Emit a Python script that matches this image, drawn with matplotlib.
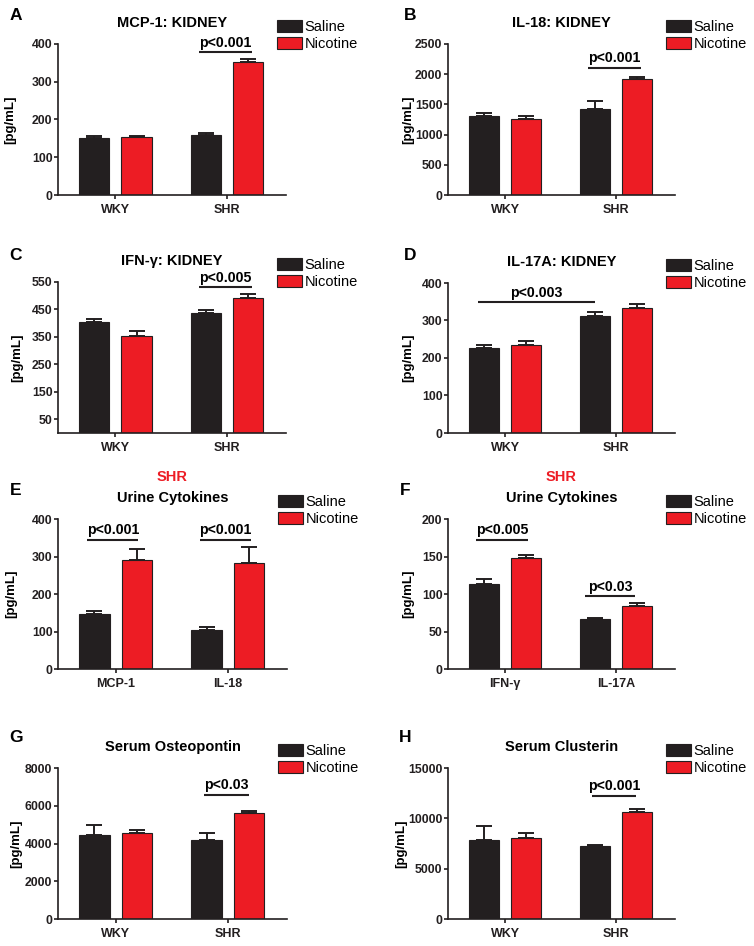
import numpy as np
import matplotlib.pyplot as plt
from matplotlib.patches import Patch

plt.rcParams['font.family'] = ['Liberation Sans', 'DejaVu Sans']

W, H = 754, 946
BLACK = '#231f20'
RED = '#ed1c24'

# --- data ---
strains = ['WKY', 'SHR']

mcp1_sal = [150, 159]
mcp1_sal_err = [5, 6.5]
mcp1_nic = [153, 352]
mcp1_nic_err = [4.5, 8]

il18_sal = [1316, 1427]
il18_sal_err = [39, 122]
il18_nic = [1255, 1919]
il18_nic_err = [45, 33]

ifng_sal = [403, 437]
ifng_sal_err = [13, 10]
ifng_nic = [355, 492]
ifng_nic_err = [18, 13]

il17a_sal = [227, 313]
il17a_sal_err = [7, 10]
il17a_nic = [234, 332]
il17a_nic_err = [10.5, 13]

urine1_cats = ['MCP-1', 'IL-18']
urine1_sal = [146, 105]
urine1_sal_err = [9, 7]
urine1_nic = [291, 284]
urine1_nic_err = [28, 42]

urine2_cats = ['IFN-γ', 'IL-17A']
urine2_sal = [114, 66.5]
urine2_sal_err = [6, 1]
urine2_nic = [148, 83.5]
urine2_nic_err = [4.5, 4.5]

opn_sal = [4430, 4200]
opn_sal_err = [530, 355]
opn_nic = [4575, 5600]
opn_nic_err = [125, 105]

clu_sal = [7815, 7285]
clu_sal_err = [1455, 100]
clu_nic = [8045, 10660]
clu_nic_err = [465, 300]

# p-value labels and the height of their bars (data units)
p_A = ['p<0.001']; h_A = [378]
p_B = ['p<0.001']; h_B = [2102]
p_C = ['p<0.005']; h_C = [530]
p_D = ['p<0.003']; h_D = [349]
p_E = ['p<0.001', 'p<0.001']; h_E = [344, 344]
p_F = ['p<0.005', 'p<0.03']; h_F = [172, 97]
p_G = ['p<0.03']; h_G = [6570]
p_H = ['p<0.001']; h_H = [12250]

fig = plt.figure(figsize=(W / 100, H / 100), dpi=100)


def add_ax(left, top, right, bottom):
    return fig.add_axes([left / W, 1 - bottom / H, (right - left) / W, (bottom - top) / H])


x_sal = np.array([0.0, 3.7])
x_nic = x_sal + 1.4


def draw_panel(ax, cats, sal, sal_err, nic, nic_err, yticks, ylim, title,
               plabels, pheights, pspans, ylab_off, letter, letter_xy, shr=False):
    z = np.zeros(len(sal))
    ekw = dict(elinewidth=1.4, capthick=1.4, ecolor=BLACK)
    ax.bar(x_sal, sal, width=1.0, color=BLACK, edgecolor=BLACK, linewidth=0.8,
           yerr=[z, sal_err], capsize=5.5, error_kw=ekw, zorder=2)
    ax.bar(x_nic, nic, width=1.0, color=RED, edgecolor=BLACK, linewidth=0.8,
           yerr=[z, nic_err], capsize=5.5, error_kw=ekw, zorder=2)
    ax.set_xlim(-1.2, 6.35)
    ax.set_ylim(*ylim)
    ax.set_yticks(yticks)
    ax.set_xticks((x_sal + x_nic) / 2)
    ax.set_xticklabels(cats, fontsize=9, fontweight='bold')
    for lab in ax.get_yticklabels():
        lab.set_fontsize(8.8)
        lab.set_fontweight('bold')
    for s in ['top', 'right']:
        ax.spines[s].set_visible(False)
    for s in ['left', 'bottom']:
        ax.spines[s].set_linewidth(1.2)
        ax.spines[s].set_color(BLACK)
    ax.tick_params(axis='y', length=3, width=1.2, pad=1, colors=BLACK)
    ax.tick_params(axis='x', length=3, width=1.2, pad=3.5, colors=BLACK)

    ax.set_ylabel('[pg/mL]', fontsize=9.5, fontweight='bold')
    axw = ax.get_position().width * W
    ax.yaxis.set_label_coords(-ylab_off / axw, 0.5)
    ax.yaxis.label.set_va('center')

    ax.annotate(title, xy=(0.5, 1), xycoords='axes fraction', xytext=(0, 15),
                textcoords='offset points', ha='center', va='center',
                fontsize=10.5, fontweight='bold')
    if shr:
        ax.annotate('SHR', xy=(0.5, 1), xycoords='axes fraction', xytext=(0, 30),
                    textcoords='offset points', ha='center', va='center',
                    fontsize=10.5, fontweight='bold', color=RED)

    for lab, hgt, (x0, x1) in zip(plabels, pheights, pspans):
        ax.plot([x0, x1], [hgt, hgt], color=BLACK, lw=1.5, clip_on=False,
                solid_capstyle='butt')
        ax.annotate(lab, xy=((x0 + x1) / 2, hgt), xytext=(0, 4),
                    textcoords='offset points', ha='center', va='baseline',
                    fontsize=10.2, fontweight='bold', annotation_clip=False)

    handles = [Patch(facecolor=BLACK, edgecolor=BLACK, linewidth=0.8, label='Saline'),
               Patch(facecolor=RED, edgecolor=BLACK, linewidth=0.8, label='Nicotine')]
    pos = ax.get_position()
    lx = pos.x1 * W - 9
    ly = (1 - pos.y1) * H - 24
    ax.legend(handles=handles, loc='upper left', bbox_to_anchor=(lx / W, 1 - ly / H),
              bbox_transform=fig.transFigure, frameon=False, fontsize=10.5,
              borderpad=0, borderaxespad=0, handlelength=1.72, handleheight=0.9,
              handletextpad=0.15, labelspacing=0.22)

    fig.text(letter_xy[0] / W, 1 - letter_xy[1] / H, letter, ha='center', va='center',
             fontsize=12.5, fontweight='bold')


axA = add_ax(58, 44, 286, 195)
axB = add_ax(448, 44, 675, 195)
axC = add_ax(58, 282, 286, 433)
axD = add_ax(448, 283, 675, 433)
axE = add_ax(58, 519, 287, 669)
axF = add_ax(448, 519, 675, 669)
axG = add_ax(58, 768, 287, 919)
axH = add_ax(448, 768, 675, 919)

draw_panel(axA, strains, mcp1_sal, mcp1_sal_err, mcp1_nic, mcp1_nic_err,
           np.arange(0, 401, 100), (0, 400), 'MCP-1: KIDNEY',
           p_A, h_A, [(3.47, 5.22)], 48, 'A', (16, 15))
draw_panel(axB, strains, il18_sal, il18_sal_err, il18_nic, il18_nic_err,
           np.arange(0, 2501, 500), (0, 2500), 'IL-18: KIDNEY',
           p_B, h_B, [(3.47, 5.22)], 40, 'B', (410, 15))
draw_panel(axC, strains, ifng_sal, ifng_sal_err, ifng_nic, ifng_nic_err,
           np.arange(50, 551, 100), (0, 550), 'IFN-γ: KIDNEY',
           p_C, h_C, [(3.47, 5.22)], 41, 'C', (16, 255))
draw_panel(axD, strains, il17a_sal, il17a_sal_err, il17a_nic, il17a_nic_err,
           np.arange(0, 401, 100), (0, 400), 'IL-17A: KIDNEY',
           p_D, h_D, [(-0.2, 3.7)], 40, 'D', (410, 255))
draw_panel(axE, urine1_cats, urine1_sal, urine1_sal_err, urine1_nic, urine1_nic_err,
           np.arange(0, 401, 100), (0, 400), 'Urine Cytokines',
           p_E, h_E, [(-0.24, 1.45), (3.47, 5.16)], 47, 'E', (16, 490), shr=True)
draw_panel(axF, urine2_cats, urine2_sal, urine2_sal_err, urine2_nic, urine2_nic_err,
           np.arange(0, 201, 50), (0, 200), 'Urine Cytokines',
           p_F, h_F, [(-0.27, 1.45), (3.37, 5.03)], 40, 'F', (405, 490), shr=True)
draw_panel(axG, strains, opn_sal, opn_sal_err, opn_nic, opn_nic_err,
           np.arange(0, 8001, 2000), (0, 8000), 'Serum Osteopontin',
           p_G, h_G, [(3.63, 5.09)], 42, 'G', (16, 738))
draw_panel(axH, strains, clu_sal, clu_sal_err, clu_nic, clu_nic_err,
           np.arange(0, 15001, 5000), (0, 15000), 'Serum Clusterin',
           p_H, h_H, [(3.6, 5.06)], 47, 'H', (405, 738))

fig.savefig('out.png', dpi=100)
